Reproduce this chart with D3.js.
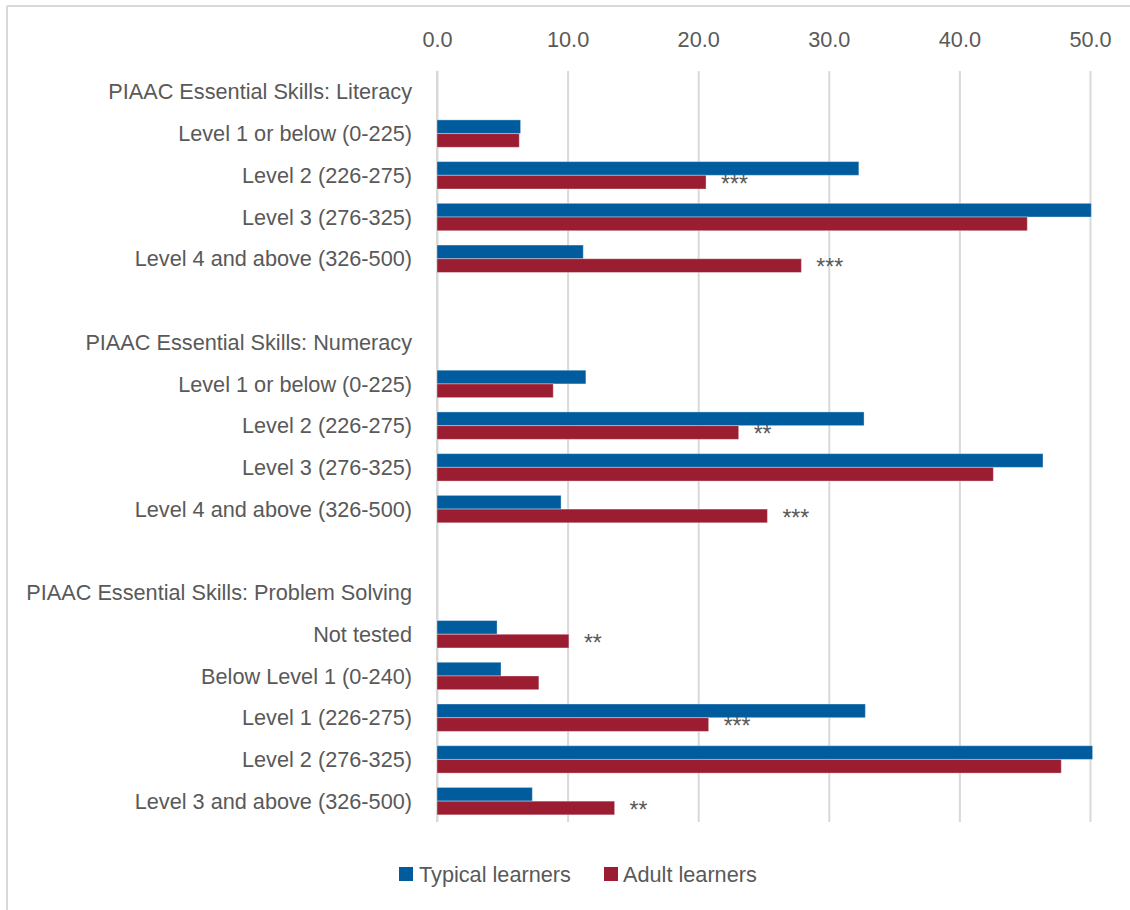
<!DOCTYPE html>
<html>
<head>
<meta charset="utf-8">
<script src="https://cdn.jsdelivr.net/npm/d3@7"></script>
<style>
  html, body { margin: 0; padding: 0; background: #ffffff; }
  svg { display: block; }
  text { font-family: "Liberation Sans", Arial, sans-serif; fill: #595959; }
</style>
</head>
<body>
<svg id="chart" width="1130" height="910"></svg>
<script>
// ---- Data ----------------------------------------------------------------
const groupTitles = [
  "PIAAC Essential Skills: Literacy",
  "PIAAC Essential Skills: Numeracy",
  "PIAAC Essential Skills: Problem Solving"
];

const literacyLevels = ["Level 1 or below (0-225)", "Level 2 (226-275)", "Level 3 (276-325)", "Level 4 and above (326-500)"];
const literacyTypical = [6.4, 32.3, 50.1, 11.2];
const literacyAdult   = [6.3, 20.6, 45.2, 27.9];
const literacySig     = ["", "***", "", "***"];

const numeracyLevels = ["Level 1 or below (0-225)", "Level 2 (226-275)", "Level 3 (276-325)", "Level 4 and above (326-500)"];
const numeracyTypical = [11.4, 32.7, 46.4, 9.5];
const numeracyAdult   = [8.9, 23.1, 42.6, 25.3];
const numeracySig     = ["", "**", "", "***"];

const problemLevels = ["Not tested", "Below Level 1 (0-240)", "Level 1 (226-275)", "Level 2 (276-325)", "Level 3 and above (326-500)"];
const problemTypical = [4.6, 4.9, 32.8, 50.2, 7.3];
const problemAdult   = [10.1, 7.8, 20.8, 47.8, 13.6];
const problemSig     = ["**", "", "***", "", "**"];

const seriesNames = ["Typical learners", "Adult learners"];
const seriesColors = ["#015c9e", "#9b1d31"];
const xTicks = [0, 10, 20, 30, 40, 50];

// ---- Row table: a title row per group, its levels, then a spacer row ----
const groups = [
  { title: groupTitles[0], levels: literacyLevels, typical: literacyTypical, adult: literacyAdult, sig: literacySig },
  { title: groupTitles[1], levels: numeracyLevels, typical: numeracyTypical, adult: numeracyAdult, sig: numeracySig },
  { title: groupTitles[2], levels: problemLevels,  typical: problemTypical,  adult: problemAdult,  sig: problemSig }
];
const rows = [];
groups.forEach((g, gi) => {
  rows.push({ label: g.title, kind: "title" });
  g.levels.forEach((lv, i) => rows.push({
    label: lv, kind: "level", values: [g.typical[i], g.adult[i]], sig: g.sig[i]
  }));
  if (gi < groups.length - 1) rows.push({ label: "", kind: "spacer" });
});
rows.forEach((r, i) => r.key = "r" + i);

// ---- Layout ----
const svg = d3.select("#chart");
const plot = { left: 437, right: 1090, top: 71, bottom: 822 };
const fontSize = 21.7;

const x = d3.scaleLinear().domain([0, 50]).range([plot.left, plot.right]);
const y = d3.scaleBand()
  .domain(rows.map(r => r.key))
  .range([plot.top, plot.bottom])
  .paddingInner(0.343)
  .paddingOuter(0.1715);
const ySub = d3.scaleBand().domain([0, 1]).range([0, y.bandwidth()]);

// Outer frame (left and top edges)
svg.append("line").attr("x1", 7).attr("x2", 7).attr("y1", 6).attr("y2", 910)
  .attr("stroke", "#d9d9d9").attr("stroke-width", 2);
svg.append("line").attr("x1", 7).attr("x2", 1130).attr("y1", 6).attr("y2", 6)
  .attr("stroke", "#d9d9d9").attr("stroke-width", 2);

// Vertical gridlines + value axis labels on top
const xAxis = d3.axisTop(x).tickValues(xTicks).tickFormat(d3.format(".1f"))
  .tickSize(-(plot.bottom - plot.top)).tickPadding(0);
const gx = svg.append("g").attr("transform", `translate(0,${plot.top})`).call(xAxis);
gx.select(".domain").remove();
gx.selectAll(".tick line").attr("stroke", "#d9d9d9").attr("stroke-width", 2);
gx.selectAll(".tick text")
  .attr("y", 47 - plot.top)
  .attr("dy", 0)
  .attr("font-size", fontSize)
  .attr("font-family", "Liberation Sans, Arial, sans-serif")
  .attr("fill", "#595959");

// Category axis line
svg.append("line").attr("x1", x(0)).attr("x2", x(0))
  .attr("y1", plot.top).attr("y2", plot.bottom)
  .attr("stroke", "#d9d9d9").attr("stroke-width", 2);

// Category labels
svg.append("g").selectAll("text")
  .data(rows.filter(r => r.label))
  .join("text")
  .attr("x", 412)
  .attr("y", r => y(r.key) + y.bandwidth() / 2)
  .attr("dy", "0.35em")
  .attr("text-anchor", "end")
  .attr("font-size", fontSize)
  .text(r => r.label);

// Bars
const levelRows = rows.filter(r => r.kind === "level");
const barG = svg.append("g").selectAll("g")
  .data(levelRows)
  .join("g")
  .attr("transform", r => `translate(0,${y(r.key)})`);

barG.selectAll("rect")
  .data(r => r.values.map((v, si) => ({ v, si })))
  .join("rect")
  .attr("x", x(0))
  .attr("y", d => ySub(d.si))
  .attr("width", d => x(d.v) - x(0))
  .attr("height", ySub.bandwidth())
  .attr("fill", d => seriesColors[d.si])
  .attr("stroke", "rgba(255,255,255,0.35)")
  .attr("stroke-width", 1);

// Significance markers beside the adult-learner bars
barG.filter(r => r.sig)
  .append("text")
  .attr("x", r => x(r.values[1]) + 15)
  .attr("y", ySub(1) + ySub.bandwidth() / 2)
  .attr("dy", "0.42em")
  .attr("font-size", 23)
  .attr("fill", "#404040")
  .text(r => r.sig);

// Legend
const legend = svg.append("g");
const legendItems = [{ x: 399, t: 419 }, { x: 604, t: 623 }];
seriesNames.forEach((name, i) => {
  legend.append("rect")
    .attr("x", legendItems[i].x).attr("y", 867)
    .attr("width", 14).attr("height", 14)
    .attr("fill", seriesColors[i]);
  legend.append("text")
    .attr("x", legendItems[i].t).attr("y", 882)
    .attr("font-size", fontSize)
    .text(name);
});
</script>
</body>
</html>
